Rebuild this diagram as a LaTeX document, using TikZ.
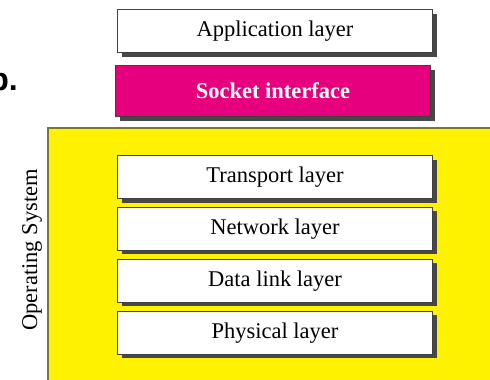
\documentclass[tikz,border=0pt]{standalone}
\usepackage{fontspec}
\setmainfont{Liberation Serif}
\newfontfamily\tagfont{Liberation Sans}
\usetikzlibrary{positioning,shadows}
\definecolor{socketpink}{RGB}{230,0,126}
\definecolor{osyellow}{RGB}{255,242,0}
\definecolor{osedge}{RGB}{125,120,40}

\begin{document}
\begin{tikzpicture}[
  x=1pt,y=-1pt,
  node distance=8pt,
  layer/.style={rectangle,draw=black!75,line width=0.9pt,fill=white,inner sep=0pt,
    minimum width=315pt,minimum height=43pt,font=\fontsize{22.5}{24}\selectfont,
    general shadow={fill=black!72,shadow xshift=4pt,shadow yshift=-4pt}},
  socket/.style={layer,fill=socketpink,text=white,minimum height=51pt,
    font=\fontsize{22.5}{24}\selectfont\bfseries}
]
\clip (0,0) rectangle (490,380);

% operating system area
\fill[osyellow] (48,128) rectangle (500,390);
\draw[osedge,line width=1.2pt] (48,390) |- (500,128);
\node[rotate=90,font=\fontsize{22.5}{24}\selectfont] (oslabel) at (32,250) {Operating System};

% item tag, cut off at the left
\node[anchor=base east,inner sep=0pt,font=\tagfont\bfseries\fontsize{32}{34}\selectfont] (tag) at (18,90) {b.};

% user side
\node[layer] (app) at (275,31) {Application layer};
\node[socket] (sock) at (273,91) {Socket interface};

% protocol stack
\node[layer] (trans) at (275,177) {Transport layer};
\node[layer,below=of trans] (net) {Network layer};
\node[layer,below=of net] (link) {Data link layer};
\node[layer,below=of link] (phys) {Physical layer};

\end{tikzpicture}
\end{document}
